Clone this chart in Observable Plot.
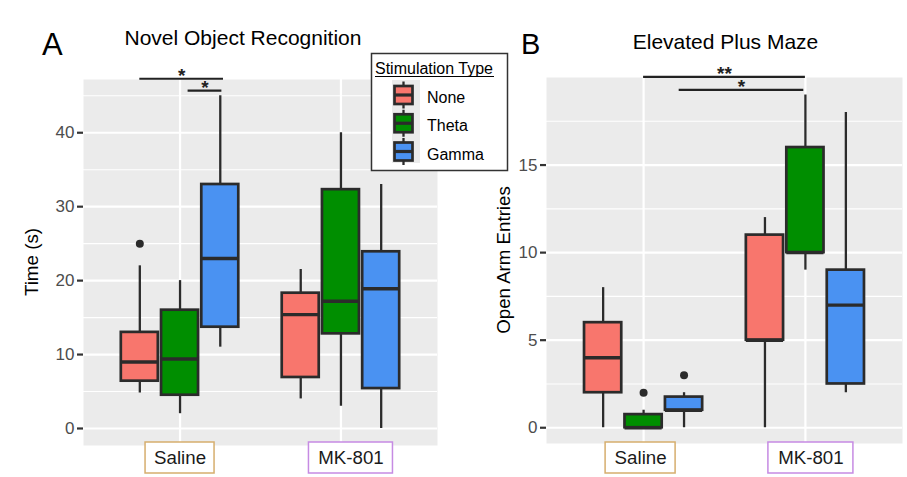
<!DOCTYPE html>
<html><head><meta charset="utf-8">
<script src="https://cdn.jsdelivr.net/npm/d3@7"></script>
<script src="https://cdn.jsdelivr.net/npm/@observablehq/plot@0.6"></script>
<style>
html,body{margin:0;padding:0;background:#fff;}
#fig{position:relative;width:907px;height:477px;overflow:hidden;background:#fff;font-family:"Liberation Sans",Arial,sans-serif;}
#fig svg{position:absolute;top:0;overflow:visible;}
</style></head><body><div id="fig"></div>
<script>
// ---------- data ----------
const groups = ["Saline", "MK-801"];
const stims = ["None", "Theta", "Gamma"];
const stimColors = ["#F8766D", "#008E00", "#4A92F2"];
const groupBorders = ["#D6AE6E", "#C68BE3"];

// Panel A: Novel Object Recognition, Time (s)
// order: Saline None, Saline Theta, Saline Gamma, MK-801 None, MK-801 Theta, MK-801 Gamma
const norMin = [4.8, 2.0, 11.0, 4.0, 3.0, 0.0];
const norQ1  = [6.4, 4.5, 13.7, 6.9, 12.8, 5.4];
const norMed = [9.0, 9.4, 23.0, 15.4, 17.2, 18.9];
const norQ3  = [13.0, 16.0, 33.0, 18.3, 32.3, 23.9];
const norMax = [22.0, 20.0, 45.0, 21.5, 40.0, 33.0];
const norOutGroup = ["Saline"];
const norOutStim = ["None"];
const norOutValue = [25];
const norSigFrom = [0.75, 1.05];
const norSigTo = [1.27, 1.26];
const norSigY = [47.3, 45.7];
const norSigLabel = ["*", "*"];
const norTicks = [0, 10, 20, 30, 40];
const norMinor = [5, 15, 25, 35, 45];

// Panel B: Elevated Plus Maze, Open Arm Entries
const epmMin = [0, 0, 0, 0, 9, 2];
const epmQ1  = [2, 0, 1, 5, 10, 2.5];
const epmMed = [4, 0, 1, 5, 10, 7];
const epmQ3  = [6, 0.75, 1.75, 11, 16, 9];
const epmMax = [8, 1, 2, 12, 19, 18];
const epmOutGroup = ["Saline", "Saline"];
const epmOutStim = ["Theta", "Gamma"];
const epmOutValue = [2, 3];
const epmSigFrom = [1.0, 1.22];
const epmSigTo = [2.0, 1.99];
const epmSigY = [20.03, 19.29];
const epmSigLabel = ["**", "*"];
const epmTicks = [0, 5, 10, 15];
const epmMinor = [2.5, 7.5, 12.5, 17.5];

// ---------- helpers ----------
const FONT = '"Liberation Sans", Arial, sans-serif';
const xPos = (g, s) => groups.indexOf(g) + 1 + (stims.indexOf(s) - 1) * 0.25;
const HW = 0.115;

function panel(cfg) {
  const rows = groups.flatMap((g, gi) => stims.map((s, si) => {
    const k = gi * 3 + si;
    return {group: g, stim: s, x: xPos(g, s), min: cfg.min[k], q1: cfg.q1[k], med: cfg.med[k], q3: cfg.q3[k], max: cfg.max[k]};
  }));
  const outs = cfg.outValue.map((v, i) => ({x: xPos(cfg.outGroup[i], cfg.outStim[i]), value: v}));
  const sig = cfg.sigY.map((y, i) => ({x1: cfg.sigFrom[i], x2: cfg.sigTo[i], y, label: cfg.sigLabel[i]}));
  const y0 = cfg.yDomain[0];
  const labelMarks = groups.flatMap((g, gi) => {
    const L = cfg.labels[gi];
    return [
      Plot.rect([g], {x1: gi + 1, x2: gi + 1, y1: y0, y2: y0,
        insetLeft: L.dx - L.hw, insetRight: -L.hw - L.dx,
        insetTop: -cfg.labTop, insetBottom: -(31 - cfg.labTop),
        fill: "white", stroke: groupBorders[gi], strokeWidth: 1.5}),
      Plot.text([g], {x: gi + 1, y: y0, text: d => d, dx: L.dx, dy: cfg.labDy,
        fontSize: 18.7, fill: "#1a1a1a", lineAnchor: "middle"})
    ];
  });
  return Plot.plot({
    width: cfg.width, height: 477,
    marginLeft: cfg.ml, marginRight: cfg.mr, marginTop: cfg.mt, marginBottom: cfg.mb,
    x: {type: "linear", domain: [0.4, 2.6], axis: null},
    y: {type: "linear", domain: cfg.yDomain, axis: null},
    color: {domain: stims, range: stimColors},
    style: {fontFamily: FONT, background: "transparent", overflow: "visible"},
    marks: [
      Plot.frame({fill: "#EBEBEB", stroke: null}),
      Plot.gridY(cfg.minor, {stroke: "white", strokeOpacity: 1, strokeWidth: 1.1}),
      Plot.gridY(cfg.ticks, {stroke: "white", strokeOpacity: 1, strokeWidth: 2.2}),
      Plot.gridX([1, 2], {stroke: "white", strokeOpacity: 1, strokeWidth: 2.2}),
      Plot.ruleX(rows, {x: "x", y1: "min", y2: "max", stroke: "#2b2b2b", strokeWidth: 2.3}),
      Plot.rect(rows, {x1: d => d.x - HW, x2: d => d.x + HW, y1: "q1", y2: "q3", fill: "stim", stroke: "#2b2b2b", strokeWidth: 2.7}),
      Plot.ruleY(rows, {x1: d => d.x - HW, x2: d => d.x + HW, y: "med", stroke: "#2b2b2b", strokeWidth: 3.4}),
      Plot.dot(outs, {x: "x", y: "value", r: 4, fill: "#2b2b2b", stroke: null}),
      Plot.axisY(cfg.ticks, {tickSize: 6, tickPadding: 3, stroke: "#333", color: "#4d4d4d", strokeWidth: 2.2, fontSize: 17, label: null}),
      Plot.ruleY(sig, {x1: "x1", x2: "x2", y: "y", stroke: "#222", strokeWidth: 2.2}),
      Plot.text(sig, {x: d => (d.x1 + d.x2) / 2, y: "y", text: "label", lineAnchor: "bottom", dy: 3.5, fontSize: 19, fontWeight: "bold", fill: "#222"}),
      ...labelMarks
    ]
  });
}

const fig = document.getElementById("fig");
const A = panel({
  width: 460, ml: 83, mr: 23, mt: 79, mb: 32, yDomain: [-2.3, 47.2],
  min: norMin, q1: norQ1, med: norMed, q3: norQ3, max: norMax,
  outGroup: norOutGroup, outStim: norOutStim, outValue: norOutValue,
  sigFrom: norSigFrom, sigTo: norSigTo, sigY: norSigY, sigLabel: norSigLabel,
  ticks: norTicks, minor: norMinor, labTop: 3, labDy: 13,
  labels: [{hw: 34.5, dx: 0}, {hw: 42, dx: 10}]
});
A.style.left = "0px";
fig.appendChild(A);
const B = panel({
  width: 447, ml: 86, mr: 5, mt: 77, mb: 34, yDomain: [-0.9, 20],
  min: epmMin, q1: epmQ1, med: epmMed, q3: epmQ3, max: epmMax,
  outGroup: epmOutGroup, outStim: epmOutStim, outValue: epmOutValue,
  sigFrom: epmSigFrom, sigTo: epmSigTo, sigY: epmSigY, sigLabel: epmSigLabel,
  ticks: epmTicks, minor: epmMinor, labTop: 1, labDy: 15,
  labels: [{hw: 35, dx: -3}, {hw: 42.5, dx: 5.5}]
});
B.style.left = "460px";
fig.appendChild(B);

// ---------- overlay: titles, axis titles, legend ----------
const svg = d3.select(fig).append("svg")
  .attr("width", 907).attr("height", 477)
  .style("left", "0px").style("font-family", FONT);
const txt = (x, y, s, size, anchor = "start", rot = 0) => svg.append("text")
  .attr("transform", `translate(${x},${y}) rotate(${rot})`)
  .attr("text-anchor", anchor).attr("font-size", size).attr("fill", "#000").text(s);
txt(42, 55, "A", 31);
txt(243, 45, "Novel Object Recognition", 21, "middle");
txt(521, 54, "B", 29);
txt(725.5, 49, "Elevated Plus Maze", 21, "middle");
txt(38, 262, "Time (s)", 18.8, "middle", -90);
txt(510, 260, "Open Arm Entries", 18.7, "middle", -90);

// legend
const lg = svg.append("g");
lg.append("rect").attr("x", 371.5).attr("y", 53.5).attr("width", 136).attr("height", 117)
  .attr("fill", "white").attr("stroke", "#333").attr("stroke-width", 1.5);
lg.append("text").attr("x", 375).attr("y", 74).attr("font-size", 16).attr("fill", "#000").text("Stimulation Type");
lg.append("line").attr("x1", 375).attr("x2", 494).attr("y1", 76.5).attr("y2", 76.5).attr("stroke", "#000").attr("stroke-width", 1.2);
lg.append("rect").attr("x", 392).attr("y", 80).attr("width", 28).attr("height", 83).attr("fill", "#EBEBEB");
stims.forEach((s, i) => {
  const cy = 95 + i * 28.25;
  lg.append("line").attr("x1", 403.5).attr("x2", 403.5).attr("y1", cy - 13.5).attr("y2", cy + 13.5).attr("stroke", "#2b2b2b").attr("stroke-width", 2.3);
  lg.append("rect").attr("x", 394.5).attr("y", cy - 9).attr("width", 18).attr("height", 18)
    .attr("fill", stimColors[i]).attr("stroke", "#2b2b2b").attr("stroke-width", 2.7);
  lg.append("line").attr("x1", 394.5).attr("x2", 412.5).attr("y1", cy).attr("y2", cy).attr("stroke", "#2b2b2b").attr("stroke-width", 3.2);
  lg.append("text").attr("x", 427).attr("y", cy + 8).attr("font-size", 16).attr("fill", "#000").text(s);
});
</script></body></html>
